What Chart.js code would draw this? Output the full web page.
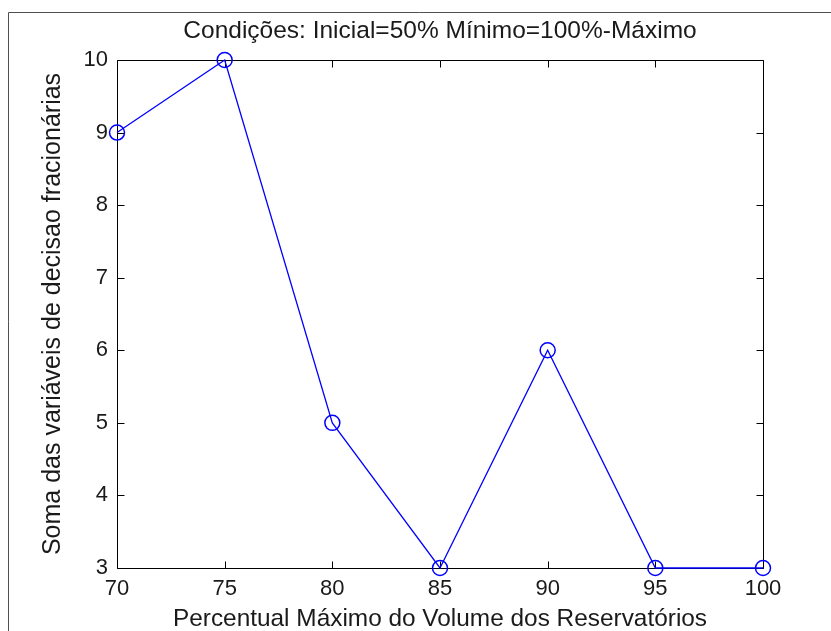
<!DOCTYPE html>
<html>
<head>
<meta charset="utf-8">
<script src="https://cdn.jsdelivr.net/npm/chart.js@4/dist/chart.umd.min.js"></script>
<style>
  html, body { margin: 0; padding: 0; background: #fff; }
  #wrap { width: 831px; height: 631px; }
</style>
</head>
<body>
<div id="wrap"><canvas id="c" width="831" height="631"></canvas></div>
<script>
// Maximum reservoir volume (%) and the sum of fractional decision variables
const volumePct = [70, 75, 80, 85, 90, 95, 100];
const sumFractional = [9, 10, 5, 3, 6, 3, 3];
const xTicks = [70, 75, 80, 85, 90, 95, 100];
const yTicks = [3, 4, 5, 6, 7, 8, 9, 10];

const titleText = 'Condições: Inicial=50% Mínimo=100%-Máximo';
const xTitle = 'Percentual Máximo do Volume dos Reservatórios';
const yTitle = 'Soma das variáveis de decisao fracionárias';

const FONT = 'Liberation Sans, Arial, sans-serif';
const TEXT = '#1a1a1a';

// Outer figure frame plus a boxed axes with inward tick marks on all four sides
const boxPlugin = {
  id: 'matlabBox',
  beforeDraw(chart) {
    const ctx = chart.ctx;
    ctx.save();
    ctx.strokeStyle = '#505050';
    ctx.lineWidth = 1;
    ctx.beginPath();
    ctx.moveTo(8.5, 631);
    ctx.lineTo(8.5, 12.5);
    ctx.lineTo(831, 12.5);
    ctx.stroke();
    ctx.restore();
  },
  beforeDatasetsDraw(chart) {
    const {ctx, chartArea: a, scales: {x, y}} = chart;
    const L = Math.round(a.left) + 0.5, R = Math.round(a.right) + 0.5;
    const T = Math.round(a.top) + 0.5, B = Math.round(a.bottom) + 0.5;
    const len = 7;
    ctx.save();
    ctx.strokeStyle = '#000';
    ctx.lineWidth = 1;
    ctx.beginPath();
    ctx.rect(L, T, R - L, B - T);
    xTicks.forEach(v => {
      const px = Math.round(x.getPixelForValue(v)) + 0.5;
      ctx.moveTo(px, B); ctx.lineTo(px, B - len);
      ctx.moveTo(px, T); ctx.lineTo(px, T + len);
    });
    yTicks.forEach(v => {
      const py = Math.round(y.getPixelForValue(v)) + 0.5;
      ctx.moveTo(L, py); ctx.lineTo(L + len, py);
      ctx.moveTo(R, py); ctx.lineTo(R - len, py);
    });
    ctx.stroke();
    ctx.restore();
  }
};

new Chart(document.getElementById('c'), {
  type: 'line',
  data: {
    datasets: [{
      data: volumePct.map((v, i) => ({x: v, y: sumFractional[i]})),
      borderColor: '#0000ff',
      borderWidth: 1.3,
      pointStyle: 'circle',
      pointRadius: 7.5,
      pointBorderWidth: 1.5,
      pointBorderColor: '#0000ff',
      pointBackgroundColor: 'rgba(0,0,0,0)',
      tension: 0,
      fill: false,
      clip: false
    }]
  },
  options: {
    responsive: false,
    animation: false,
    events: [],
    layout: { padding: { left: 0, right: 68, top: 0, bottom: 0 } },
    plugins: {
      legend: { display: false },
      tooltip: { enabled: false },
      title: {
        display: true,
        text: titleText,
        fullSize: false,
        color: TEXT,
        font: { family: FONT, size: 24.5, weight: 'normal', lineHeight: 1.2 },
        padding: { top: 17, bottom: 13.6 }
      }
    },
    scales: {
      x: {
        type: 'linear',
        position: 'bottom',
        min: 70, max: 100,
        afterBuildTicks(scale) { scale.ticks = xTicks.map(v => ({value: v})); },
        afterFit(scale) { scale.height = 63; },
        grid: { display: false, drawTicks: false },
        border: { display: false },
        ticks: {
          color: TEXT,
          padding: 8,
          maxRotation: 0,
          autoSkip: false,
          font: { family: FONT, size: 22, lineHeight: 1.2 }
        },
        title: {
          display: true,
          text: xTitle,
          color: TEXT,
          font: { family: FONT, size: 24.4, lineHeight: 1.0 },
          padding: { top: 0, bottom: 0 }
        }
      },
      y: {
        type: 'linear',
        position: 'left',
        min: 3, max: 10,
        afterBuildTicks(scale) { scale.ticks = yTicks.map(v => ({value: v})); },
        afterFit(scale) { scale.width = 117; },
        grid: { display: false, drawTicks: false },
        border: { display: false },
        ticks: {
          color: TEXT,
          padding: 9,
          autoSkip: false,
          font: { family: FONT, size: 22, lineHeight: 1.2 }
        },
        title: {
          display: true,
          text: yTitle,
          color: TEXT,
          font: { family: FONT, size: 25, lineHeight: 1.0 },
          padding: { top: 40.8, bottom: 0 }
        }
      }
    }
  },
  plugins: [boxPlugin]
});
</script>
</body>
</html>
